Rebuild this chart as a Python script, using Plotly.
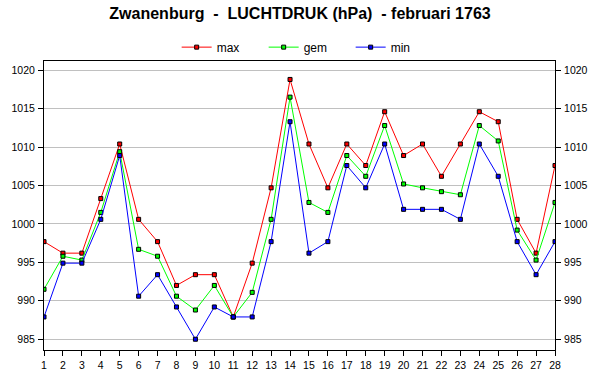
import plotly.graph_objects as go

days = list(range(1, 29))
max_vals = [997.7, 996.2, 996.2, 1003.3, 1010.4, 1000.6, 997.7, 992.0, 993.4, 993.4,
            987.9, 994.9, 1004.7, 1018.8, 1010.4, 1004.7, 1010.4, 1007.6, 1014.6, 1008.9,
            1010.4, 1006.2, 1010.4, 1014.6, 1013.3, 1000.6, 996.2, 1007.6]
gem_vals = [991.5, 995.8, 995.3, 1001.5, 1009.4, 996.7, 995.8, 990.6, 988.8, 992.0,
            987.9, 991.1, 1000.6, 1016.5, 1002.8, 1001.5, 1008.9, 1006.2, 1012.8, 1005.2,
            1004.7, 1004.2, 1003.8, 1012.8, 1010.8, 999.2, 995.3, 1002.8]
min_vals = [987.9, 994.9, 994.9, 1000.6, 1008.9, 990.6, 993.4, 989.2, 985.0, 989.2,
            987.9, 987.9, 997.7, 1013.3, 996.2, 997.7, 1007.6, 1004.7, 1010.4, 1001.9,
            1001.9, 1001.9, 1000.6, 1010.4, 1006.2, 997.7, 993.4, 997.7]
y_ticks = [985, 990, 995, 1000, 1005, 1010, 1015, 1020]

FONT = "Liberation Sans, Arial, sans-serif"
yr = [983.6, 1021.2]

fig = go.Figure()
for name, vals, col in [("max", max_vals, "#FF0000"), ("gem", gem_vals, "#00FF00"), ("min", min_vals, "#0000FF")]:
    fig.add_trace(go.Scatter(
        x=days, y=vals, name=name, mode="lines+markers",
        line=dict(color=col, width=1),
        marker=dict(symbol="square", size=4, color=col, line=dict(color="black", width=1)),
    ))
fig.add_trace(go.Scatter(x=days, y=min_vals, yaxis="y2", showlegend=False,
                         mode="lines", line=dict(width=0), hoverinfo="skip", opacity=0))

axis_common = dict(range=yr, tickvals=y_ticks, ticks="outside", ticklen=5, tickcolor="black",
                   tickfont=dict(family=FONT, size=10.5, color="black"), ticklabelstandoff=1,
                   showline=True, linecolor="black", linewidth=1, zeroline=False)

fig.update_layout(
    width=600, height=390,
    paper_bgcolor="white", plot_bgcolor="white",
    margin=dict(l=35, r=34, t=61, b=40),
    title=dict(text="<b>Zwanenburg  -  LUCHTDRUK (hPa)  - februari 1763</b>",
               x=0.5, xanchor="center", y=0.965, yanchor="middle",
               font=dict(family=FONT, size=16, color="black")),
    legend=dict(orientation="h", x=0.515, xanchor="center", y=1.048, yanchor="middle",
                font=dict(family=FONT, size=12, color="black"), itemwidth=30,
                entrywidth=42, entrywidthmode="pixels",
                bgcolor="rgba(0,0,0,0)"),
    xaxis=dict(range=[1, 28], tickvals=days, ticks="outside", ticklen=5, tickcolor="black",
               tickfont=dict(family=FONT, size=10.5, color="black"),
               showline=True, linecolor="black", linewidth=1, mirror=True,
               showgrid=False, zeroline=False),
    yaxis=dict(**axis_common, showgrid=True, gridcolor="#C0C0C0", gridwidth=1),
    yaxis2=dict(**axis_common, overlaying="y", side="right", showgrid=False),
)

fig.write_html("out.html", config={"displayModeBar": False},
               post_script="document.body.style.margin='0';document.body.style.overflow='hidden';")
